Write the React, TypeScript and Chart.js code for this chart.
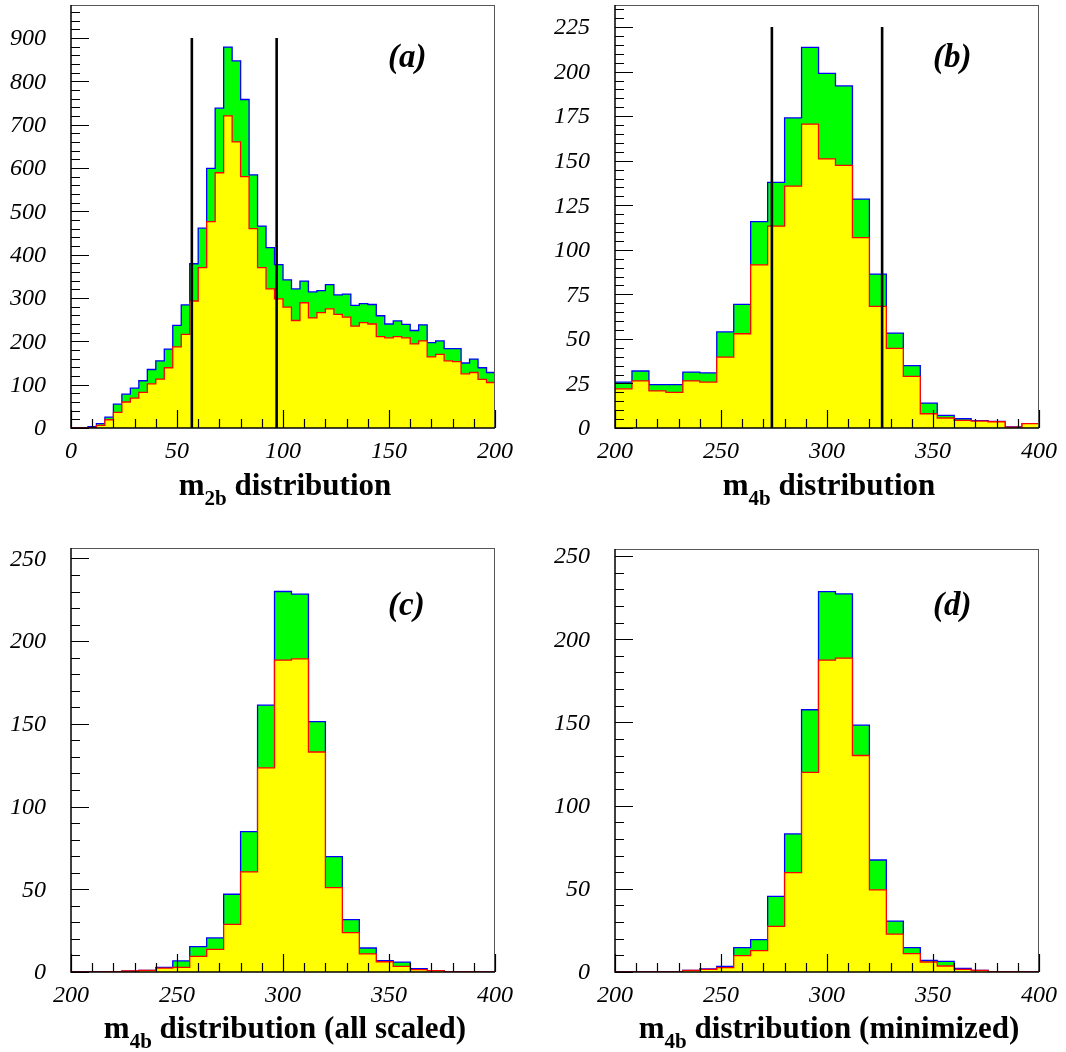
import React, { useEffect, useRef } from "react";
import { Chart, registerables } from "chart.js";
Chart.register(...registerables);

// ---------- data ----------
// Panel (a): m2b, 50 bins of width 4 from 0 to 200
const A_BIN_LOW = 0;
const A_BIN_WIDTH = 4;
const A_TOTAL = [
  0, 0, 3, 10, 25, 55, 78, 92, 109, 135,
  155, 182, 237, 284, 379, 461, 599, 738, 879, 847,
  758, 584, 466, 416, 377, 342, 321, 339, 314, 317,
  331, 307, 309, 283, 287, 285, 259, 240, 247, 239,
  225, 238, 197, 201, 183, 183, 150, 159, 139, 128,
];
const A_SIGNAL = [
  0, 0, 1, 6, 19, 36, 60, 69, 82, 102,
  113, 139, 187, 216, 293, 370, 476, 589, 720, 660,
  580, 460, 370, 321, 298, 279, 248, 289, 254, 266,
  275, 262, 256, 235, 243, 240, 211, 208, 211, 208,
  194, 201, 164, 170, 155, 153, 125, 128, 112, 105,
];
const A_CUTS = [57, 97];
const A_CUT_TOP = 900;
const A_X_TICKS = [0, 50, 100, 150, 200];
const A_Y_TICKS = [0, 100, 200, 300, 400, 500, 600, 700, 800, 900];

// Panel (b): m4b, 25 bins of width 8 from 200 to 400
const B_BIN_LOW = 200;
const B_BIN_WIDTH = 8;
const B_TOTAL = [
  25.8, 32, 24.3, 24.3, 31.4, 30.9, 53.9, 69.4, 115.8, 137.8,
  174, 213.6, 199, 192, 128.5, 86.4, 53.3, 35, 14, 7.1,
  5.2, 4.1, 3.7, 0.6, 2.4,
];
const B_SIGNAL = [
  22, 26.4, 20.8, 20, 26.4, 25.8, 39.8, 52.9, 91.6, 113.3,
  135.8, 170.5, 151, 147.4, 106.8, 68.3, 44.7, 29, 8, 5.6,
  4.3, 3.9, 3.5, 0.5, 2.4,
];
const B_CUTS = [274, 326];
const B_CUT_TOP = 225;
const B_X_TICKS = [200, 250, 300, 350, 400];
const B_Y_TICKS = [0, 25, 50, 75, 100, 125, 150, 175, 200, 225];

// Panel (c): m4b all scaled
const C_BIN_LOW = 200;
const C_BIN_WIDTH = 8;
const C_TOTAL = [
  0, 0, 0.2, 0.5, 1, 2.8, 6.7, 15.3, 20.6, 47,
  84.9, 161.3, 230, 228.4, 151.4, 69.8, 31.7, 14.5, 6.9, 6,
  2, 0.8, 0.1, 0.2, 0,
];
const C_SIGNAL = [
  0, 0, 0.2, 0.6, 1, 2.4, 2.8, 9.5, 13.7, 28.8,
  60.5, 123.4, 188.5, 189.3, 133, 51, 23.8, 10.9, 6.2, 3.4,
  1.4, 0.8, 0.1, 0.2, 0,
];
const C_X_TICKS = [200, 250, 300, 350, 400];
const C_Y_TICKS = [0, 50, 100, 150, 200, 250];

// Panel (d): m4b minimized
const D_BIN_LOW = 200;
const D_BIN_WIDTH = 8;
const D_TOTAL = [
  0, 0, 0, 0, 1, 1.8, 3.4, 14.6, 19.4, 45.4,
  83, 157.6, 228.6, 227.2, 148.3, 67.3, 30.6, 14.6, 7, 6.4,
  2.2, 1, 0.2, 0.2, 0,
];
const D_SIGNAL = [
  0, 0, 0, 0, 1, 1.6, 2.6, 9.8, 12.8, 27.4,
  59.7, 120, 187.4, 188.6, 130.1, 49.4, 22.8, 11, 6, 3.6,
  1.6, 1, 0.2, 0.2, 0,
];
const D_X_TICKS = [200, 250, 300, 350, 400];
const D_Y_TICKS = [0, 50, 100, 150, 200, 250];

// ---------- rendering ----------
const SERIF = '"Liberation Serif", "Times New Roman", Times, serif';

type Panel = {
  left: number;
  top: number;
  pad: { left: number; top: number; right: number; bottom: number };
  xMin: number;
  xMax: number;
  yMax: number;
  binLow: number;
  binWidth: number;
  total: number[];
  signal: number[];
  cuts: number[];
  cutTop: number;
  xTicks: number[];
  yTicks: number[];
  xMinor: number;
  yMinor: number;
  tag: string;
  tagX: number;
  tagY: number;
  titleSub: string;
  titleRest: string;
  titleY: number;
};

const PANELS: Panel[] = [
  {
    left: 0, top: 0,
    pad: { left: 71, top: 5, right: 38, bottom: 98 },
    xMin: 0, xMax: 200, yMax: 976,
    binLow: A_BIN_LOW, binWidth: A_BIN_WIDTH, total: A_TOTAL, signal: A_SIGNAL,
    cuts: A_CUTS, cutTop: A_CUT_TOP,
    xTicks: A_X_TICKS, yTicks: A_Y_TICKS, xMinor: 10, yMinor: 20,
    tag: "(a)", tagX: 388, tagY: 67,
    titleSub: "2b", titleRest: " distribution", titleY: 495,
  },
  {
    left: 533, top: 0,
    pad: { left: 82, top: 5, right: 27, bottom: 98 },
    xMin: 200, xMax: 400, yMax: 237.4,
    binLow: B_BIN_LOW, binWidth: B_BIN_WIDTH, total: B_TOTAL, signal: B_SIGNAL,
    cuts: B_CUTS, cutTop: B_CUT_TOP,
    xTicks: B_X_TICKS, yTicks: B_Y_TICKS, xMinor: 10, yMinor: 5,
    tag: "(b)", tagX: 400, tagY: 67,
    titleSub: "4b", titleRest: " distribution", titleY: 495,
  },
  {
    left: 0, top: 526,
    pad: { left: 71, top: 22, right: 38, bottom: 80 },
    xMin: 200, xMax: 400, yMax: 256.3,
    binLow: C_BIN_LOW, binWidth: C_BIN_WIDTH, total: C_TOTAL, signal: C_SIGNAL,
    cuts: [], cutTop: 0,
    xTicks: C_X_TICKS, yTicks: C_Y_TICKS, xMinor: 10, yMinor: 10,
    tag: "(c)", tagX: 388, tagY: 89,
    titleSub: "4b", titleRest: " distribution (all scaled)", titleY: 512,
  },
  {
    left: 533, top: 526,
    pad: { left: 82, top: 23, right: 27, bottom: 80 },
    xMin: 200, xMax: 400, yMax: 254.2,
    binLow: D_BIN_LOW, binWidth: D_BIN_WIDTH, total: D_TOTAL, signal: D_SIGNAL,
    cuts: [], cutTop: 0,
    xTicks: D_X_TICKS, yTicks: D_Y_TICKS, xMinor: 10, yMinor: 10,
    tag: "(d)", tagX: 400, tagY: 89,
    titleSub: "4b", titleRest: " distribution (minimized)", titleY: 512,
  },
];

function histPoints(low: number, width: number, vals: number[]) {
  const pts = vals.map((v, i) => ({ x: low + i * width, y: v }));
  pts.push({ x: low + vals.length * width, y: vals[vals.length - 1] });
  return pts;
}

function makePlugin(p: Panel) {
  return {
    id: "rootFrame",
    afterDatasetsDraw(chart: any) {
      const ctx: CanvasRenderingContext2D = chart.ctx;
      const ca = chart.chartArea;
      const xs = chart.scales.x;
      const ys = chart.scales.y;
      ctx.save();
      // frame
      ctx.strokeStyle = "#555";
      ctx.lineWidth = 1;
      ctx.beginPath();
      ctx.moveTo(ca.left, ca.top + 0.5);
      ctx.lineTo(ca.right, ca.top + 0.5);
      ctx.moveTo(ca.right - 0.5, ca.top);
      ctx.lineTo(ca.right - 0.5, ca.bottom);
      ctx.stroke();
      ctx.strokeStyle = "#000";
      ctx.lineWidth = 1.5;
      ctx.beginPath();
      ctx.moveTo(ca.left, ca.top);
      ctx.lineTo(ca.left, ca.bottom);
      ctx.lineTo(ca.right, ca.bottom);
      ctx.stroke();

      // y ticks
      ctx.lineWidth = 1.2;
      ctx.beginPath();
      const yMajor = p.yTicks[1] - p.yTicks[0];
      const nYm = Math.round(yMajor / p.yMinor);
      for (let i = 0; i * p.yMinor <= p.yMax; i++) {
        const v = i * p.yMinor;
        const y = Math.round(ys.getPixelForValue(v)) + 0.5;
        const len = i % nYm === 0 ? 18 : 9;
        ctx.moveTo(ca.left, y);
        ctx.lineTo(ca.left + len, y);
      }
      // x ticks
      const xMajor = p.xTicks[1] - p.xTicks[0];
      const nXm = Math.round(xMajor / p.xMinor);
      for (let i = 0; p.xMin + i * p.xMinor <= p.xMax; i++) {
        const v = p.xMin + i * p.xMinor;
        const x = Math.round(xs.getPixelForValue(v)) + 0.5;
        const len = i % nXm === 0 ? 18 : 9;
        ctx.moveTo(x, ca.bottom);
        ctx.lineTo(x, ca.bottom - len);
      }
      ctx.stroke();

      // tick labels
      ctx.fillStyle = "#000";
      ctx.font = `italic 24px ${SERIF}`;
      ctx.textAlign = "right";
      ctx.textBaseline = "middle";
      for (const v of p.yTicks) {
        ctx.fillText(String(v), ca.left - 25, ys.getPixelForValue(v) + 1);
      }
      ctx.textAlign = "center";
      ctx.textBaseline = "alphabetic";
      for (const v of p.xTicks) {
        ctx.fillText(String(v), xs.getPixelForValue(v), ca.bottom + 30);
      }

      // panel tag
      ctx.font = `italic bold 33px ${SERIF}`;
      ctx.textAlign = "left";
      ctx.fillText(p.tag, p.tagX, p.tagY);

      // title with subscript
      const mainFont = `bold 31px ${SERIF}`;
      const subFont = `bold 21px ${SERIF}`;
      ctx.font = mainFont;
      const wM = ctx.measureText("m").width;
      const wR = ctx.measureText(p.titleRest).width;
      ctx.font = subFont;
      const wS = ctx.measureText(p.titleSub).width;
      const totalW = wM + wS + wR;
      const x0 = (ca.left + ca.right) / 2 - totalW / 2 + 2;
      ctx.font = mainFont;
      ctx.fillText("m", x0, p.titleY);
      ctx.font = subFont;
      ctx.fillText(p.titleSub, x0 + wM, p.titleY + 10);
      ctx.font = mainFont;
      ctx.fillText(p.titleRest, x0 + wM + wS, p.titleY);
      ctx.restore();
    },
  };
}

function PanelChart({ p }: { p: Panel }) {
  const ref = useRef<HTMLCanvasElement | null>(null);
  useEffect(() => {
    if (!ref.current) return;
    const datasets: any[] = [
      {
        data: histPoints(p.binLow, p.binWidth, p.total),
        stepped: "before",
        borderColor: "#0000ff",
        borderWidth: 1.3,
        backgroundColor: "#00ff00",
        fill: "origin",
        pointRadius: 0,
        order: 3,
      },
      {
        data: histPoints(p.binLow, p.binWidth, p.signal),
        stepped: "before",
        borderColor: "#ff0000",
        borderWidth: 1.3,
        backgroundColor: "#ffff00",
        fill: "origin",
        pointRadius: 0,
        order: 2,
      },
    ];
    p.cuts.forEach((c) => {
      datasets.push({
        data: [
          { x: c, y: 0 },
          { x: c, y: p.cutTop },
        ],
        borderColor: "#000",
        borderWidth: 2.6,
        fill: false,
        pointRadius: 0,
        order: 0,
      });
    });
    const chart = new Chart(ref.current, {
      type: "line",
      data: { datasets },
      options: {
        responsive: false,
        animation: false,
        events: [],
        layout: { padding: p.pad },
        scales: {
          x: { type: "linear", min: p.xMin, max: p.xMax, display: false },
          y: { type: "linear", min: 0, max: p.yMax, display: false },
        },
        plugins: {
          legend: { display: false },
          tooltip: { enabled: false },
        },
      },
      plugins: [makePlugin(p)],
    } as any);
    return () => chart.destroy();
  }, [p]);
  return (
    <canvas
      ref={ref}
      width={533}
      height={526}
      style={{ position: "absolute", left: p.left, top: p.top, width: 533, height: 526 }}
    />
  );
}

export default function App() {
  return (
    <div
      style={{
        position: "absolute",
        left: 0,
        top: 0,
        width: 1066,
        height: 1052,
        background: "#fff",
        overflow: "hidden",
      }}
    >
      {PANELS.map((p, i) => (
        <PanelChart key={i} p={p} />
      ))}
    </div>
  );
}
